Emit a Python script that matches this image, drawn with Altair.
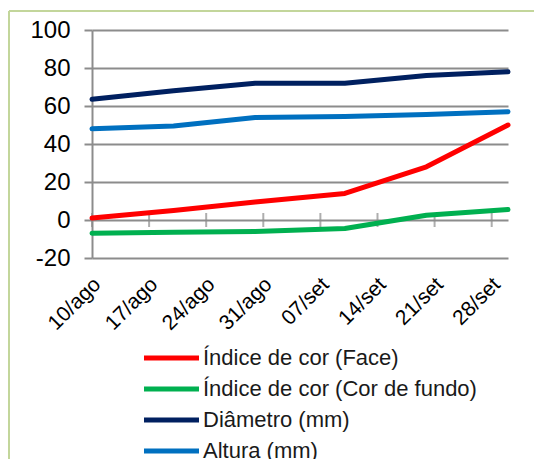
import json
from datetime import datetime, timezone

import altair as alt
import pandas as pd


def ms(day):
    return int(datetime.strptime(day, "%Y-%m-%d").replace(tzinfo=timezone.utc).timestamp() * 1000)


# Sampling dates and measured series
dates = ["2011-08-10", "2011-08-20", "2011-08-30", "2011-09-10", "2011-09-20", "2011-09-30"]
series = ["Índice de cor (Face)", "Índice de cor (Cor de fundo)", "Diâmetro (mm)", "Altura (mm)"]
face = [1, 5, 9.5, 14, 28, 50]
fundo = [-7, -6.5, -6, -4.5, 2.5, 5.5]
diametro = [63.5, 68, 72, 72, 76, 78]
altura = [48, 49.5, 54, 54.5, 55.5, 57]
colors = ["#ff0000", "#00b050", "#002060", "#0070c0"]

# Weekly axis ticks and their labels
tick_dates = ["2011-08-10", "2011-08-17", "2011-08-24", "2011-08-31",
              "2011-09-07", "2011-09-14", "2011-09-21", "2011-09-28"]
tick_labels = ["10/ago", "17/ago", "24/ago", "31/ago", "07/set", "14/set", "21/set", "28/set"]
y_ticks = [-20, 0, 20, 40, 60, 80, 100]

tick_ms = [ms(d) for d in tick_dates]

rows = []
for name, vals in zip(series, [face, fundo, diametro, altura]):
    for d, v in zip(dates, vals):
        rows.append({"data": ms(d), "serie": name, "valor": v})
df = pd.DataFrame(rows)
ticks_df = pd.DataFrame({"data": tick_ms})

GRAY = "#8c8c8c"
FONT = "Liberation Sans"

x_scale = alt.Scale(type="utc", domain=[ms(dates[0]), ms(dates[-1])])
y_scale = alt.Scale(domain=[-20, 100], nice=False)

label_expr = f"{json.dumps(tick_labels)}[indexof({json.dumps(tick_ms)}, time(datum.value))]"

lines = alt.Chart(df).mark_line(strokeWidth=5, strokeCap="round", strokeJoin="round").encode(
    x=alt.X("data:T", scale=x_scale, title=None,
            axis=alt.Axis(values=tick_ms, tickCount=20, labelExpr=label_expr, labelAngle=-45,
                          labelAlign="right", labelBaseline="middle", labelFontSize=21,
                          labelFont=FONT, labelColor="#000000", labelPadding=23,
                          labelOffset=5, labelOverlap=False, labelBound=False, ticks=False,
                          domain=False, grid=False)),
    y=alt.Y("valor:Q", scale=y_scale, title=None,
            axis=alt.Axis(values=y_ticks, tickCount=20, tickSize=8, tickColor=GRAY, tickWidth=2,
                          domainColor=GRAY, domainWidth=2, grid=True, gridColor=GRAY,
                          gridWidth=2, gridOpacity=1, labelExpr="'' + datum.value",
                          labelOverlap=False, labelFontSize=24, labelFont=FONT,
                          labelColor="#000000", labelPadding=14)),
    color=alt.Color("serie:N", sort=series,
                    scale=alt.Scale(domain=series, range=colors),
                    legend=alt.Legend(title=None, orient="none", legendX=46, legendY=317,
                                      symbolType="M-1,0L10,0", symbolSize=100,
                                      symbolStrokeWidth=5, labelFontSize=22, labelFont=FONT,
                                      labelColor="#1a1a1a", labelOffset=43, rowPadding=9,
                                      padding=0, labelLimit=400)),
)

# cross tick marks on the zero line
zero_ticks = alt.Chart(ticks_df).mark_tick(orient="vertical", size=14, thickness=2, color=GRAY).encode(
    x=alt.X("data:T", scale=x_scale),
    y=alt.datum(0),
)

# chart-area frame
frame_top = alt.Chart(pd.DataFrame({"k": [0]})).mark_rule(color="#c3d69b", strokeWidth=2).encode(
    x=alt.value(-83), x2=alt.value(700), y=alt.value(-19)
)
frame_left = alt.Chart(pd.DataFrame({"k": [0]})).mark_rule(color="#c3d69b", strokeWidth=2).encode(
    x=alt.value(-83), y=alt.value(-19), y2=alt.value(700)
)

chart = alt.layer(frame_top, frame_left, zero_ticks, lines).properties(
    width=416, height=228,
    autosize=alt.AutoSizeParams(type="none"),
    padding={"left": 92, "top": 30, "right": 26, "bottom": 201},
    background="#ffffff",
).configure_view(stroke=None)

chart.save("out.html", embed_options={"renderer": "svg", "actions": False})
